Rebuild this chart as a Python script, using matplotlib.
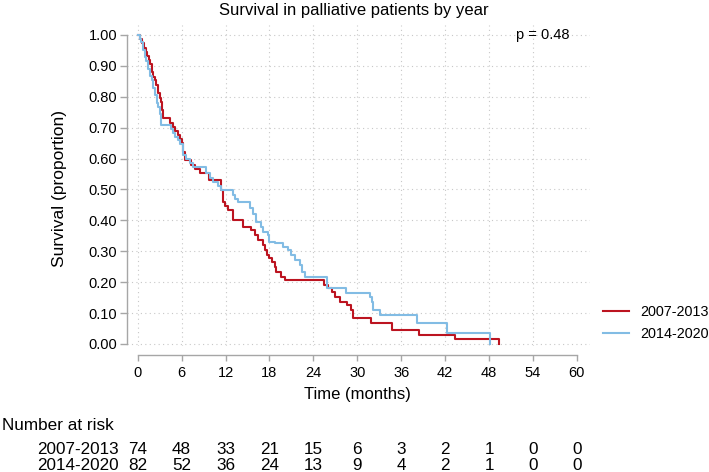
import matplotlib
matplotlib.use('Agg')
import matplotlib.pyplot as plt

plt.rcParams['font.family'] = ['Liberation Sans', 'DejaVu Sans']

# Kaplan-Meier steps (time in months, survival proportion)
red_t = [0, 0.3, 0.6, 0.9, 1.1, 1.3, 1.5, 1.7, 1.9, 2.1, 2.3, 2.5, 2.8, 3.1, 3.2, 3.3, 3.45,
         4.4, 4.8, 5.1, 5.5, 5.8, 6.0, 6.2, 6.4, 7.3, 7.8, 8.5, 9.8, 11.4, 11.65, 11.9, 12.3,
         13.0, 14.4, 15.5, 16.0, 16.4, 17.1, 17.35, 17.6, 18.0, 18.3, 18.7, 18.9, 19.6, 20.1,
         25.5, 26.0, 26.5, 27.0, 27.6, 28.6, 29.2, 29.4, 31.9, 34.7, 38.5, 43.3, 49.4]
red_s = [1.0, 0.986, 0.973, 0.959, 0.946, 0.932, 0.919, 0.905, 0.881, 0.865, 0.854, 0.838, 0.811,
         0.797, 0.784, 0.757, 0.730, 0.716, 0.703, 0.689, 0.676, 0.662, 0.649, 0.620, 0.595,
         0.579, 0.566, 0.552, 0.530, 0.498, 0.460, 0.446, 0.432, 0.400, 0.380, 0.369, 0.353,
         0.337, 0.320, 0.304, 0.288, 0.277, 0.264, 0.250, 0.234, 0.218, 0.207, 0.191, 0.180,
         0.169, 0.153, 0.137, 0.126, 0.110, 0.083, 0.067, 0.045, 0.029, 0.016, 0.0]

blue_t = [0, 0.3, 0.5, 0.76, 1.0, 1.2, 1.45, 1.7, 1.9, 2.1, 2.35, 2.6, 2.8, 3.05, 3.2, 4.6, 4.85,
          5.1, 5.5, 5.8, 6.2, 6.6, 7.1, 7.6, 9.4, 9.9, 10.3, 11.0, 11.4, 13.0, 13.3, 13.7, 15.3,
          15.8, 16.2, 16.9, 17.1, 17.8, 18.0, 18.7, 19.8, 20.5, 21.0, 21.5, 22.2, 22.4, 22.8,
          25.8, 28.5, 31.7, 32.0, 32.2, 33.1, 38.1, 42.2, 48.2]
blue_s = [1.0, 0.988, 0.976, 0.951, 0.927, 0.915, 0.890, 0.866, 0.854, 0.829, 0.805, 0.780,
          0.768, 0.744, 0.709, 0.695, 0.683, 0.671, 0.659, 0.646, 0.610, 0.598, 0.585, 0.573,
          0.552, 0.537, 0.525, 0.512, 0.498, 0.482, 0.470, 0.460, 0.439, 0.420, 0.395, 0.380,
          0.363, 0.353, 0.331, 0.326, 0.315, 0.304, 0.288, 0.272, 0.256, 0.234, 0.218, 0.180,
          0.164, 0.153, 0.137, 0.110, 0.094, 0.069, 0.037, 0.0]

groups = ['2007-2013', '2014-2020']
risk_times = [0, 6, 12, 18, 24, 30, 36, 42, 48, 54, 60]
risk_red = [74, 48, 33, 21, 15, 6, 3, 2, 1, 0, 0]
risk_blue = [82, 52, 36, 24, 13, 9, 4, 2, 1, 0, 0]
yticks = [0.0, 0.1, 0.2, 0.3, 0.4, 0.5, 0.6, 0.7, 0.8, 0.9, 1.0]

red = '#bc1420'
blue = '#82bce4'
axis_grey = '#a6a6a6'

W, H = 709, 472
fig = plt.figure(figsize=(W / 100, H / 100), dpi=100)
# axes box in pixels: x 127..590, y 25..346 (top-down)
ax = fig.add_axes([127 / W, 1 - 346 / H, (590 - 127) / W, (346 - 25) / H])

ax.step(red_t, red_s, where='post', color=red, lw=1.5, label=groups[0], zorder=3)
ax.step(blue_t, blue_s, where='post', color=blue, lw=1.5, label=groups[1], zorder=3)

ax.set_xlim(-1.46, 61.8)
ax.set_ylim(-0.0065, 1.032)

# dotted grid
for y in yticks:
    ax.axhline(y, color='#c8c8c8', lw=0.8, ls=(0, (1, 3)), zorder=1)
for x in risk_times[:-1]:
    ax.axvline(x, color='#c8c8c8', lw=0.8, ls=(0, (1, 3)), zorder=1)

ax.spines['top'].set_visible(False)
ax.spines['right'].set_visible(False)
ax.spines['left'].set_bounds(0, 1)
ax.spines['bottom'].set_bounds(0, 60)
ax.spines['bottom'].set_position(('outward', 6.5))
for s in ['left', 'bottom']:
    ax.spines[s].set_color(axis_grey)
    ax.spines[s].set_linewidth(1.0)

ax.set_yticks(yticks)
ax.set_yticklabels(['%.2f' % y for y in yticks])
ax.set_xticks(risk_times)
ax.tick_params(axis='y', length=5, width=1.0, color=axis_grey, labelsize=10.5, pad=2)
ax.tick_params(axis='x', length=4, width=1.0, color=axis_grey, labelsize=10.5, pad=4)

fig.text(60 / W, 1 - 189 / H, 'Survival (proportion)', rotation=90, ha='center', va='center',
         fontsize=12.5)
ax.text(59, 1.0, 'p = 0.48', ha='right', va='center', fontsize=10.5)
fig.text(354 / W, 1 - 11 / H, 'Survival in palliative patients by year', ha='center',
         va='center', fontsize=12)
fig.text(357 / W, 1 - 394 / H, 'Time (months)', ha='center', va='center', fontsize=12)

fig.legend(loc='center left', bbox_to_anchor=(603 / W, 1 - 323 / H), frameon=False,
           fontsize=10.4, handlelength=1.8, handletextpad=0.75, labelspacing=0.55,
           borderaxespad=0, borderpad=0)

# number at risk table
fig.text(2 / W, 1 - 425 / H, 'Number at risk', ha='left', va='center', fontsize=12.3)
for row_y, name, counts in [(449, groups[0], risk_red), (466, groups[1], risk_blue)]:
    fig.text(119 / W, 1 - row_y / H, name, ha='right', va='center', fontsize=12.3)
    for t, n in zip(risk_times, counts):
        fig.text((137.7 + t * 7.32) / W, 1 - row_y / H, str(n), ha='center', va='center',
                 fontsize=12.3)

fig.savefig('out.png', dpi=100, facecolor='white')
